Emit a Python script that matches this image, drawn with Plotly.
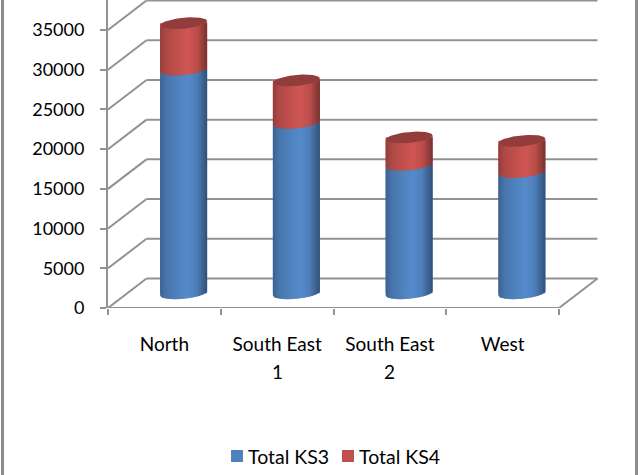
import numpy as np
import plotly.graph_objects as go

categories = ["North", "South East<br>1", "South East<br>2", "West"]
total_ks3 = [28170, 21460, 16180, 15260]
total_ks4 = [5830, 5330, 3430, 3930]
y_ticks = [0, 5000, 10000, 15000, 20000, 25000, 30000, 35000]
series_names = ["Total KS3", "Total KS4"]

BLUE, RED = "#4f81bd", "#c0504d"
GRID = "#929292"
FONT = "Lato"
TEXT = "#000000"

PX_X = 112.75            # pixels per category
PX_Y = 278 / 35000       # pixels per value unit
DEPTH_X = 38.5 / PX_X
DEPTH_Y = 29.5 / PX_Y
BAR_W = 47 / PX_X
CAP_B = 5.5 / PX_Y
CAP_SHEAR = 2.2 / PX_Y
CAP_COLOR = "#923d3b"
L, T, W, H = 108, 0, 491, 308

SHADE_POS = [0.0, 0.04, 0.15, 0.35, 0.58, 0.78, 0.92, 1.0]
SHADE_VAL = [0.74, 0.82, 0.92, 1.0, 1.08, 0.98, 0.76, 0.62]
N_STRIPS = 24


def shade(hex_color, f):
    rgb = [int(hex_color[i:i + 2], 16) for i in (1, 3, 5)]
    return "rgb(%d,%d,%d)" % tuple(min(255, int(c * f)) for c in rgb)


def front_edge(u, level):
    return level + CAP_SHEAR * u - CAP_B * np.sqrt(np.clip(1 - u * u, 0, 1))


def back_edge(u, level):
    return level + CAP_SHEAR * u + CAP_B * np.sqrt(np.clip(1 - u * u, 0, 1))


fig = go.Figure()

xs = [i + DEPTH_X / 2 for i in range(len(categories))]
base = DEPTH_Y / 2
fig.add_bar(x=xs, y=total_ks3, base=base, width=BAR_W, name=series_names[0], showlegend=False,
            marker=dict(color=BLUE, line_width=0), hoverinfo="skip")
fig.add_bar(x=xs, y=total_ks4, base=[base + v for v in total_ks3], width=BAR_W,
            name=series_names[1], showlegend=False,
            marker=dict(color=RED, line_width=0), hoverinfo="skip")


def strips(cx, low, high, color):
    edges = np.linspace(-1, 1, N_STRIPS + 1)
    for a, b in zip(edges[:-1], edges[1:]):
        mid = (a + b) / 2
        f = float(np.interp((mid + 1) / 2, SHADE_POS, SHADE_VAL))
        c = shade(color, f)
        end = min(1.0, b + 0.03)
        u = np.linspace(a, end, 5)
        px = cx + u * BAR_W / 2
        py_low = front_edge(u, low)
        py_high = front_edge(u, high)
        fig.add_scatter(x=np.r_[px, px[::-1]], y=np.r_[py_low, py_high[::-1]],
                        mode="lines", fill="toself", fillcolor=c, line_width=0,
                        showlegend=False, hoverinfo="skip")


for cx, v3, v4 in zip(xs, total_ks3, total_ks4):
    strips(cx, base, base + v3, BLUE)
    strips(cx, base + v3, base + v3 + v4, RED)
    top = base + v3 + v4
    u = np.linspace(-1, 1, 40)
    px = np.r_[cx + u * BAR_W / 2, cx + u[::-1] * BAR_W / 2]
    py = np.r_[front_edge(u, top), back_edge(u[::-1], top)]
    fig.add_scatter(x=px, y=py, mode="lines", fill="toself", fillcolor=CAP_COLOR,
                    line_width=0, showlegend=False, hoverinfo="skip")

x0 = -0.5
x1 = len(categories) - 0.5
shapes = []


def seg(xa, ya, xb, yb):
    shapes.append(dict(type="line", xref="x", yref="y", x0=xa, y0=ya, x1=xb, y1=yb,
                       layer="below", line=dict(color=GRID, width=2)))


for v in y_ticks:
    seg(x0, v, x0 + DEPTH_X, v + DEPTH_Y)
    seg(x0 + DEPTH_X, v + DEPTH_Y, x1 + DEPTH_X, v + DEPTH_Y)
seg(x0, 0, x1, 0)
seg(x1, 0, x1 + DEPTH_X, DEPTH_Y)

first_lines = [c.split("<br>")[0] for c in categories]
fig.update_layout(
    width=640, height=475, autosize=False,
    margin=dict(l=L, r=640 - L - W, t=T, b=475 - T - H, autoexpand=False),
    paper_bgcolor="white", plot_bgcolor="white",
    barmode="overlay", shapes=shapes, showlegend=False,
    font=dict(family=FONT, size=18, color=TEXT),
    xaxis=dict(range=[x0, x0 + W / PX_X], tickmode="array",
               tickvals=list(range(len(categories))), ticktext=first_lines,
               tickfont=dict(family=FONT, size=19, color=TEXT),
               ticks="", showgrid=False, showline=False, zeroline=False, ticklabelstandoff=23),
    xaxis2=dict(range=[x0, x0 + W / PX_X], overlaying="x", anchor="y", side="bottom",
                tickmode="array", tickvals=[x0 + i for i in range(len(categories) + 1)],
                ticktext=[""] * (len(categories) + 1), ticks="outside", ticklen=6,
                tickwidth=2, tickcolor=GRID, showgrid=False, showline=False, zeroline=False),
    yaxis=dict(range=[0, H / PX_Y], tickmode="array", tickvals=y_ticks,
               ticktext=[str(v) for v in y_ticks],
               ticks="outside", ticklen=6, tickwidth=2, tickcolor=GRID, ticklabelstandoff=12,
               showgrid=False, zeroline=False, showline=True, linecolor=GRID, linewidth=2),
)
fig.add_scatter(x=[x0], y=[0], xaxis="x2", mode="lines", showlegend=False, hoverinfo="skip")

# second line of the wrapped category labels
for i, c in enumerate(categories):
    parts = c.split("<br>")
    if len(parts) > 1:
        fig.add_annotation(xref="x", yref="paper", x=i, y=(H - 371) / H, text=parts[1],
                           showarrow=False, xanchor="center", yanchor="middle",
                           font=dict(family=FONT, size=19, color=TEXT))

for page_x in (2.5, 636.5):
    fig.add_shape(type="line", xref="paper", yref="paper",
                  x0=(page_x - L) / W, x1=(page_x - L) / W,
                  y0=-(475 - H) / H, y1=1, layer="above",
                  line=dict(color="#8c8c8c", width=3))

# legend: swatch + label
LEG_Y = (H - 456) / H
for name, color, sw_x in zip(series_names, [BLUE, RED], [231, 342]):
    fig.add_shape(type="rect", xref="paper", yref="paper",
                  x0=(sw_x - L) / W, x1=(sw_x + 12 - L) / W,
                  y0=LEG_Y - 6 / H, y1=LEG_Y + 6 / H,
                  fillcolor=color, line_width=0, layer="above")
    fig.add_annotation(xref="paper", yref="paper", x=(sw_x + 17 - L) / W, y=LEG_Y,
                       xanchor="left", yanchor="middle", text=name, showarrow=False,
                       xshift=-2, font=dict(family=FONT, size=19.5, color=TEXT))

fig.write_html("out.html", config={"displayModeBar": False},
               post_script="document.body.style.margin='0';")
